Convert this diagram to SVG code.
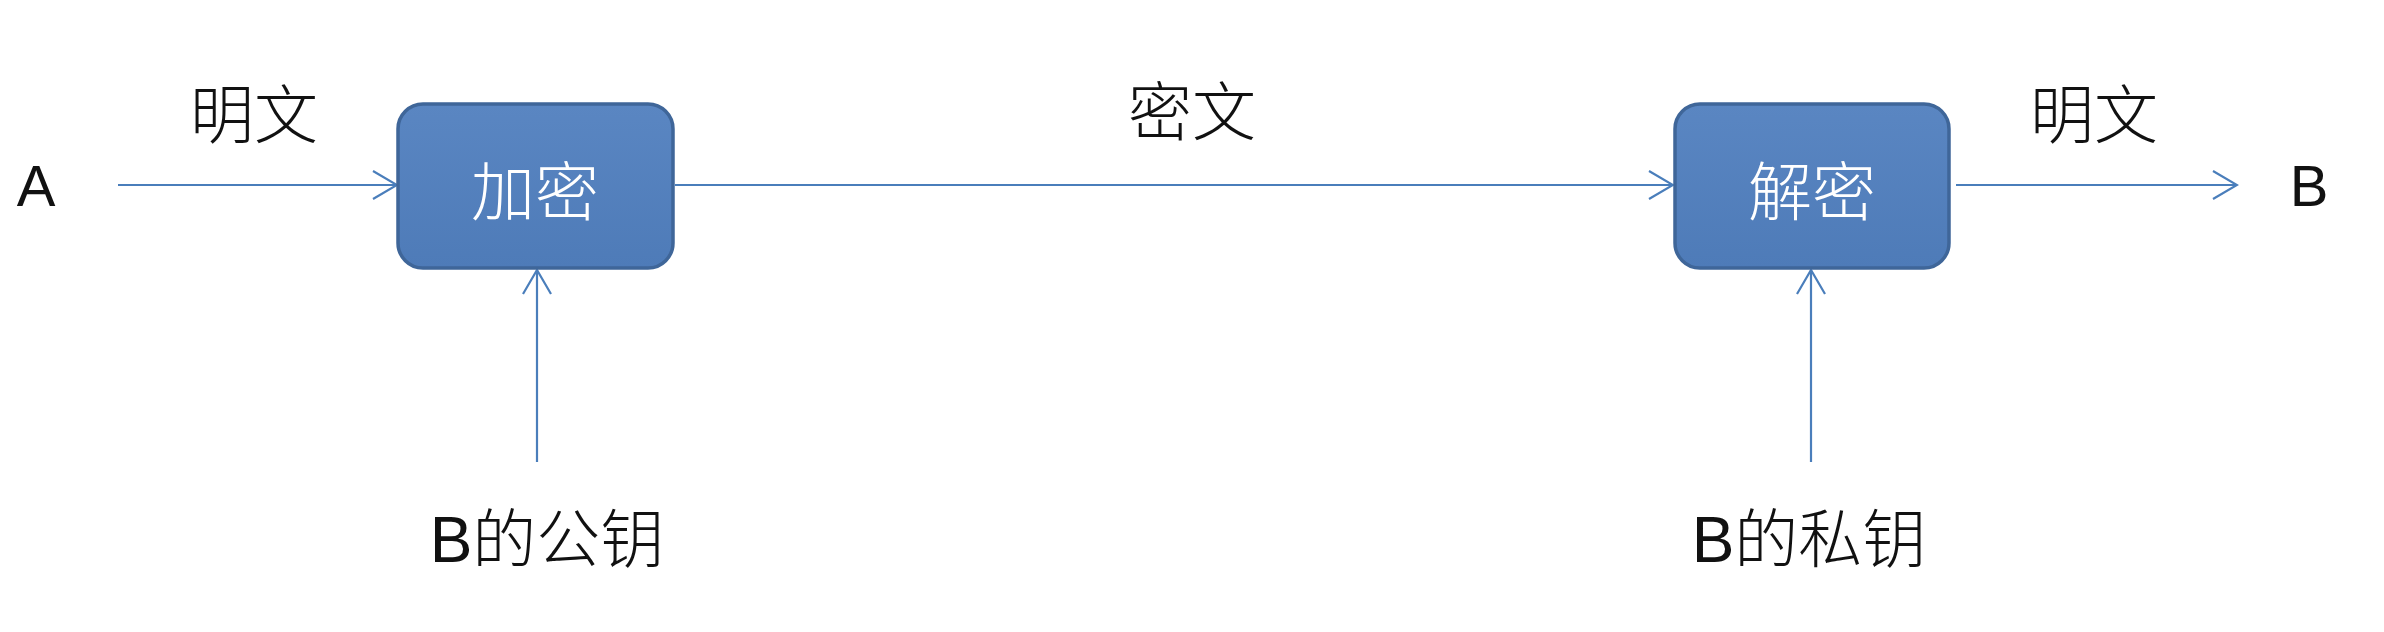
<svg xmlns="http://www.w3.org/2000/svg" width="2384" height="632" viewBox="0 0 2384 632">
<defs>
<marker id="arr" markerUnits="userSpaceOnUse" viewBox="-26 -16 28 32" refX="0" refY="0" markerWidth="28" markerHeight="32" orient="auto">
<path d="M -24 -14 L 0 0 L -24 14" fill="none" stroke="#4A7EBB" stroke-width="2.2"/>
</marker>
<linearGradient id="bg" x1="0" y1="0" x2="0" y2="1">
<stop offset="0" stop-color="#5A86C2"/>
<stop offset="1" stop-color="#4E7BB8"/>
</linearGradient>
</defs>
<style>
.conn{stroke:#4A7EBB;stroke-width:2.2;fill:none;marker-end:url(#arr)}
.box{fill:url(#bg);stroke:#3F6699;stroke-width:3.5}
.lbl{font-family:"Liberation Sans","Noto Sans CJK SC",sans-serif;font-size:64px;fill:#111;text-anchor:middle;dominant-baseline:central;font-weight:300}
.in{font-family:"Noto Sans CJK SC",sans-serif;font-size:64px;fill:#fff;text-anchor:middle;dominant-baseline:central;font-weight:300}
.lat{font-family:"Liberation Sans",sans-serif;font-size:58px;fill:#111;text-anchor:middle}
</style>
<rect width="2384" height="632" fill="#fff"/>
<g id="connectors">
<line class="conn" x1="118" y1="185" x2="397" y2="185"/>
<line class="conn" x1="675" y1="185" x2="1673" y2="185"/>
<line class="conn" x1="1956" y1="185" x2="2237" y2="185"/>
<line class="conn" x1="537" y1="462" x2="537" y2="270"/>
<line class="conn" x1="1811" y1="462" x2="1811" y2="270"/>
</g>
<g id="A"><text class="lat" x="36" y="206">A</text></g>
<g id="B"><text class="lat" x="2309" y="206">B</text></g>
<g id="encrypt">
<rect class="box" x="398" y="104" width="275" height="164" rx="25"/>
<text class="in" x="535" y="187">加密</text>
</g>
<g id="decrypt">
<rect class="box" x="1675" y="104" width="274" height="164" rx="25"/>
<text class="in" x="1812" y="187">解密</text>
</g>
<g id="labels">
<text class="lbl" x="254" y="116">明文</text>
<text class="lbl" x="1192" y="113">密文</text>
<text class="lbl" x="2094" y="116">明文</text>
<text class="lbl" x="547" y="540">B的公钥</text>
<text class="lbl" x="1809" y="540">B的私钥</text>
</g>
</svg>
